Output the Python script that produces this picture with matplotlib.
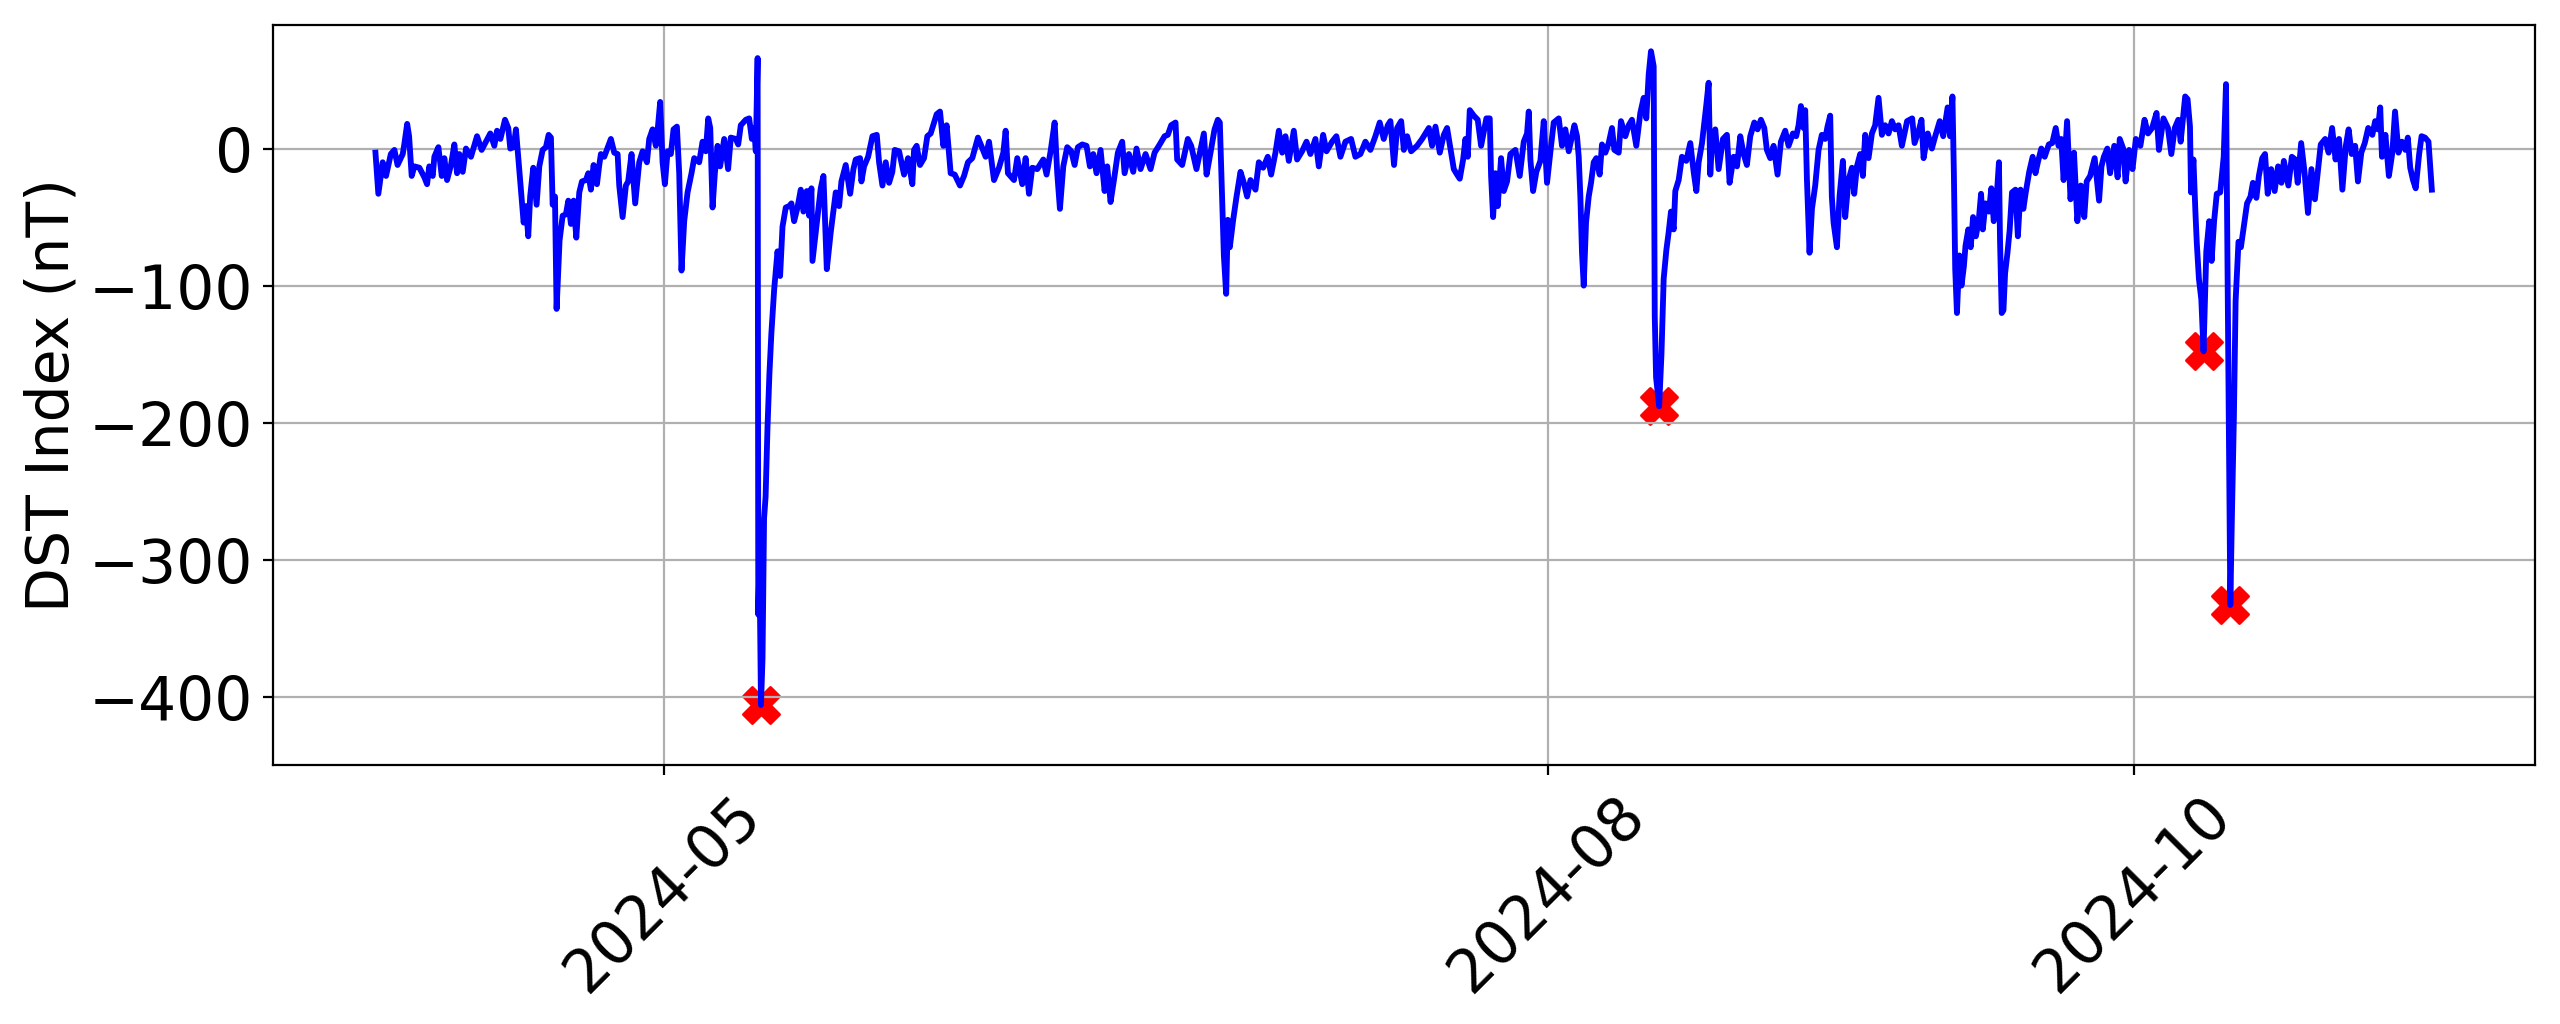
#!/usr/bin/env python3
from datetime import datetime, timedelta

import matplotlib

matplotlib.use("Agg")
import matplotlib.dates as mdates
import matplotlib.pyplot as plt


# Dst index, as (days since start, nT)
START = datetime(2024, 4, 1)

day_offset = [
    0.0, 0.3, 0.75, 1.1, 1.6, 1.97, 2.3, 2.84, 3.0, 3.3, 3.5, 3.77, 4.05, 4.57,
    5.09, 5.37, 5.6, 5.96, 6.13, 6.55, 6.9, 7.17, 7.45, 7.86, 8.21, 8.49, 8.73,
    9.08, 9.42, 9.94, 10.57, 11.05, 11.5, 11.95, 12.37, 12.65, 13.0, 13.48,
    13.82, 14.03, 14.38, 14.62, 14.9, 15.14, 15.42, 15.66, 15.9, 16.1, 16.42,
    16.77, 17.05, 17.4, 17.74, 18.02, 18.26, 18.44, 18.68, 18.85, 19.16, 19.48,
    19.82, 20.07, 20.34, 20.62, 20.9, 21.21, 21.49, 21.9, 22.15, 22.42, 22.7,
    23.05, 23.29, 23.46, 23.81, 24.5, 24.85, 25.2, 25.37, 25.72, 26.06, 26.3,
    26.65, 27.03, 27.45, 27.8, 28.25, 28.49, 28.84, 29.18, 29.36, 29.63, 29.88,
    30.12, 30.4, 30.74, 31.02, 31.37, 31.61, 31.85, 32.13, 32.48, 32.89, 33.17,
    33.69, 34.04, 34.38, 34.63, 34.84, 35.08, 35.32, 35.6, 35.87, 36.29, 36.7,
    36.98, 37.5, 37.75, 38.02, 38.54, 38.89, 39.17, 39.41, 39.58, 39.77,
    # May storm
    39.84, 39.96, 40.12, 40.28, 40.44, 40.6, 40.8, 41.0, 41.2, 41.49, 41.84,
    42.11, 42.36, 42.7, 43.05, 43.29, 43.57, 43.92, 44.26, 44.54, 44.89, 45.13,
    45.37, 45.48, 45.93, 46.34, 46.62, 46.97, 47.38, 47.9, 48.25, 48.49, 48.94,
    49.4, 49.74, 49.98, 50.43, 50.57, 50.85, 51.27, 51.72, 52.17, 52.41, 52.76,
    53.1, 53.45, 53.79, 54.04, 54.49, 55.01, 55.42, 55.87, 56.05, 56.32, 56.67,
    57.09, 57.43, 57.78, 58.13, 58.4, 58.75, 59.1, 59.44, 59.86, 60.28, 60.83,
    61.25, 61.66, 62.11, 62.46, 62.7, 63.05, 63.5, 63.85, 64.37, 64.89, 65.34,
    65.58, 65.82, 66.45, 66.79, 67.31, 67.66, 68.01, 68.35, 68.87, 69.5, 69.84,
    70.26, 70.68, 70.95, 71.23, 71.58, 71.99, 72.41, 72.76, 73.1, 73.55, 74.0,
    74.35, 74.7, 75.04, 75.46, 75.88, 76.15, 76.5, 76.85, 77.26, 77.71, 77.96,
    78.41, 78.86, 79.2, 79.62, 80.14, 80.66, 81.08, 81.53, 82.12, 82.46, 82.81,
    83.26, 83.43, 83.95, 84.54, 84.89, 85.44, 85.86, 86.21, 86.49, 86.9, 87.32,
    87.66, 87.87, 88.11, 88.29, 88.53, 88.7, 88.91, 89.26, 89.61, 90.02, 90.37,
    90.71, 91.06, 91.58, 91.93, 92.38, 92.86, 93.21, 93.66, 94.01, 94.36, 94.7,
    95.05, 95.57, 95.91, 96.43, 96.89, 97.3, 97.82, 98.17, 98.62, 98.97, 99.55,
    100.0, 100.42, 100.94, 101.53, 101.98, 102.5, 103.02, 103.54, 104.06,
    104.51, 104.93, 105.35, 105.62, 106.0, 106.32, 106.74, 107.02, 107.36,
    107.78, 108.4, 108.92, 109.27, 109.62, 109.96, 110.31, 110.76, 111.18,
    111.52, 111.87, 112.22, 112.56, 112.84, 113.19, 113.43, 113.67, 113.88,
    114.3, 114.71, 115.06, 115.61, 115.96, 116.1, 116.31, 116.55, 116.79,
    117.14, 117.42, 117.76, 118.11, 118.63, 119.08, 119.5, 119.84, 120.02,
    120.19, 120.47, 120.81, 121.23, 121.58, 121.92, 122.34, 122.62, 123.14,
    123.48, 123.83, 124.18, 124.52, 124.77, 125.04, 125.22, 125.39, 125.56,
    125.74, 125.98, 126.26, 126.5, 126.78, 127.05, 127.4, 127.64, 127.99,
    128.34, 128.68, 128.93, 129.38, 129.62, 130.07, 130.42, 130.76, 131.21,
    131.63, 131.98, 132.25, 132.5, 132.74, 133.02,
    # August storm
    133.13, 133.27, 133.59, 133.83, 134.06, 134.34, 134.58, 134.82, 135.1,
    135.27, 135.62, 135.96, 136.41, 136.83, 137.18, 137.46, 137.7, 138.05,
    138.5, 138.74, 138.91, 139.08, 139.43, 139.78, 140.23, 140.64, 140.92,
    141.34, 141.69, 142.03, 142.38, 142.72, 143.07, 143.49, 143.83, 144.18,
    144.53, 144.8, 145.15, 145.5, 145.91, 146.26, 146.71, 147.06, 147.51,
    147.85, 148.1, 148.34, 148.62, 148.79, 148.97, 149.24, 149.49, 149.83,
    150.18, 150.52, 150.87, 151.11, 151.39, 151.56, 151.74, 152.09, 152.36,
    152.71, 152.95, 153.3, 153.65, 153.89, 154.17, 154.51, 154.79, 155.03,
    155.38, 155.73, 156.07, 156.42, 156.77, 157.11, 157.46, 157.81, 158.15,
    158.5, 158.85, 159.39, 159.92, 160.17, 160.64, 160.89, 161.11, 161.54,
    161.97, 162.32, 162.79, 163.15, 163.61, 163.86, 164.11, 164.26, 164.4,
    164.58, 164.83, 165.05, 165.3, 165.47, 165.76, 166.01, 166.26, 166.55,
    166.84, 167.09, 167.27, 167.55, 167.91, 168.16, 168.41, 168.7, 168.95,
    169.06, 169.24, 169.42, 169.59, 169.84, 170.06, 170.31, 170.67, 170.92,
    171.2, 171.49, 171.74, 172.1, 172.46, 172.75, 173.0, 173.36, 173.71,
    174.14, 174.5, 174.86, 175.15, 175.43, 175.68, 176.04, 176.4, 176.76,
    177.11, 177.47, 177.83, 178.08, 178.44, 178.91, 179.37, 179.62, 179.87,
    180.23, 180.52, 180.95, 181.3, 181.52, 181.88, 182.13, 182.49, 182.85,
    183.2, 183.67, 184.1, 184.46, 184.89, 185.35, 185.6, 186.07, 186.54,
    186.89, 187.25, 187.61, 187.86, 188.33, 188.58, 188.83, 188.94, 189.19,
    189.4, 189.54, 189.76, 190.01,
    # October storms
    190.24, 190.53, 190.83, 191.08, 191.34, 191.62, 191.98, 192.34, 192.58,
    193.03, 193.2, 193.4, 193.58, 193.88, 194.13, 194.49, 194.77, 195.13,
    195.38, 195.74, 196.0, 196.35, 196.64, 196.92, 197.28, 197.64, 198.0,
    198.35, 198.6, 199.07, 199.43, 199.79, 200.04, 200.4, 200.75, 201.11,
    201.47, 201.83, 202.19, 202.44, 202.9, 203.26, 203.62, 203.98, 204.34,
    204.69, 205.05, 205.34, 205.66, 206.02, 206.31, 206.66, 207.02, 207.38,
    207.81, 208.1, 208.38, 208.63, 208.81, 209.17, 209.53, 209.89, 210.17,
    210.53, 210.89, 211.25, 211.5, 211.75, 212.04, 212.32, 212.68, 212.93,
    213.29, 213.65, 214.0,
]

dst_nt = [
    -3, -33, -10, -20, -4, -1, -12, -4, 3, 18, 9, -20, -13, -14,
    -21, -26, -13, -20, -6, 1, -20, -7, -23, -12, 3, -18, -4,
    -17, 0, -6, 9, -1, 5, 11, 2, 13, 7, 21,
    15, 0, 1, 14, -10, -30, -54, -42, -64, -35, -14,
    -41, -13, -1, 1, 10, 8, -41, -35, -117, -67, -49,
    -48, -38, -55, -38, -65, -32, -24, -23, -18, -30, -12,
    -26, -12, -4, -6, 7, -3, -4, -27, -50, -27, -24,
    -4, -40, -10, -2, -10, 7, 14, 2, 13, 34, -10,
    -26, -2, -4, 14, 16, -18, -89, -53, -32, -18, -7,
    -10, 5, -2, 22, 15, -43, -18, 2, -13, 7, -15,
    8, 7, 3, 17, 21, 22, 7, 15, -2, 66,
    # May storm
    -340, -300, -406, -372, -270, -254, -203, -164, -135, -103, -75,
    -93, -57, -43, -42, -40, -53, -43, -30, -46, -31, -49,
    -29, -82, -54, -29, -20, -88, -61, -32, -42, -24, -12,
    -33, -15, -8, -7, -24, -13, -6, 9, 10, -10, -27,
    -10, -25, -17, -1, -2, -19, -7, -26, -1, 2, -12,
    -7, 9, 11, 19, 25, 27, 2, 17, -18, -19, -27,
    -20, -10, -7, 2, 8, 2, -6, 5, -23, -14, -3,
    13, -18, -23, -7, -26, -7, -33, -14, -15, -8, -19,
    -2, 19, -18, -44, -13, 1, -2, -12, 1, 3, 2,
    -13, -4, -18, -1, -31, -13, -39, -23, -3, 5, -18,
    -4, -17, 0, -15, -4, -15, -3, 2, 9, 10, 17,
    19, -8, -12, 7, 2, -15, -1, 11, -19, -3, 14,
    21, 19, -37, -78, -106, -52, -72, -52, -35, -17, -25,
    -35, -23, -30, -10, -14, -6, -19, -3, 13, -3, 9,
    -9, 13, -8, -2, 5, -4, 7, -13, 10, -2, 5,
    9, -6, 5, 7, -6, -4, 5, -1, 9,
    19, 7, 17, 20, -12, 15, 20, -1, 9,
    -2, 2, 7, 11, 15, 2, 16, -3, 10,
    15, 0, -15, -19, -22, -8, 7, -6, 28,
    24, 21, 2, 22, 22, -20, -50, -18, -42,
    -7, -31, -24, -4, -1, -20, 5, 11, 27,
    -8, -31, -17, -9, 20, -25, 2, 19, 22,
    2, 14, -2, 9, 17, 9, -6, -35, -76,
    -100, -54, -35, -25, -10, -7, -19, 3, -3,
    4, 15, -1, -3, 20, 9, 17, 21, 2,
    26, 37, 22, 54, 71, 60,
    # August storm
    -122, -167, -188, -150, -95, -74, -61, -46, -59,
    -31, -23, -6, -9, 4, -17, -31, -10, 4,
    32, 48, -19, 4, 14, -15, 7, 10, -25,
    -6, -13, 9, -4, -12, 9, 19, 14, 21,
    15, -1, -7, 2, -19, 5, 13, 2, 11,
    9, 17, 31, 15, 28, -23, -76, -44, -27,
    -1, 10, 7, 16, 24, -35, -54, -72, -35,
    -9, -50, -23, -14, -33, -13, -4, -20, 10,
    -7, 11, 17, 37, 10, 17, 11, 20, 14,
    17, 2, 20, 22, 4, 14, 21, -7, 11,
    0, 9, 20, 9, 30, 9, 38, -18, -88,
    -120, -78, -100, -86, -71, -59, -72, -50, -64,
    -53, -33, -59, -40, -46, -29, -53, -37, -10,
    -66, -120, -118, -91, -76, -60, -32, -30, -64,
    -30, -44, -32, -17, -6, -18, -10, 0, -6,
    3, 4, 15, 2, 7, -23, 20, -37, -3,
    -53, -27, -50, -24, -20, -7, -38, -13, -6,
    0, -18, 2, -21, 7, 0, -24, -1, -15,
    7, 2, 21, 11, 15, 26, -1, 22, 15,
    -4, 15, 21, 5, 38, 36, 16, -32, -8,
    -47, -69, -95, -110,
    # October storms
    -148, -75, -53, -82, -53, -33, -32, -6, 47,
    -333, -266, -196, -111, -68, -72, -54, -40, -35,
    -25, -36, -20, -7, -4, -33, -15, -31, -13,
    -25, -9, -27, -6, -8, -25, 4, -17, -47,
    -15, -37, -13, 3, 7, -3, 15, -8, 7,
    -30, 2, 14, -4, 2, -24, -3, 4, 15,
    10, 20, 14, 30, -6, 10, -20, -3, 27,
    -3, 5, -1, 8, -14, -23, -29, -4, 9,
    8, 5, -30,
]

# storm minima flagged with red crosses
storm_day_offset = [40.12, 133.59, 190.24, 193.03]
storm_dst_nt = [-406, -188, -148, -333]

tick_months = ["2024-05", "2024-08", "2024-10"]


def main() -> None:
    assert len(day_offset) == len(dst_nt)
    times = [START + timedelta(days=d) for d in day_offset]
    storm_times = [START + timedelta(days=d) for d in storm_day_offset]

    plt.rcParams["font.family"] = "DejaVu Sans"
    fig = plt.figure(figsize=(12.8, 5.12), dpi=200)
    ax = fig.add_axes([0.1065, 0.2526, 0.8836, 0.7228])

    ax.scatter(storm_times, storm_dst_nt, color="red", marker="X", s=170)
    ax.plot(times, dst_nt, color="blue", linewidth=2.1)

    ax.set_ylim(-450, 90)
    ax.set_ylabel("DST Index (nT)", fontsize=21, labelpad=3)
    ax.set_xticks([datetime.strptime(m, "%Y-%m") for m in tick_months])
    ax.xaxis.set_major_formatter(mdates.DateFormatter("%Y-%m"))
    ax.tick_params(axis="both", labelsize=21.5)
    plt.setp(ax.get_xticklabels(), rotation=45)
    ax.grid(True)

    fig.savefig("out.png", dpi=200)
    plt.close(fig)


if __name__ == "__main__":
    main()
